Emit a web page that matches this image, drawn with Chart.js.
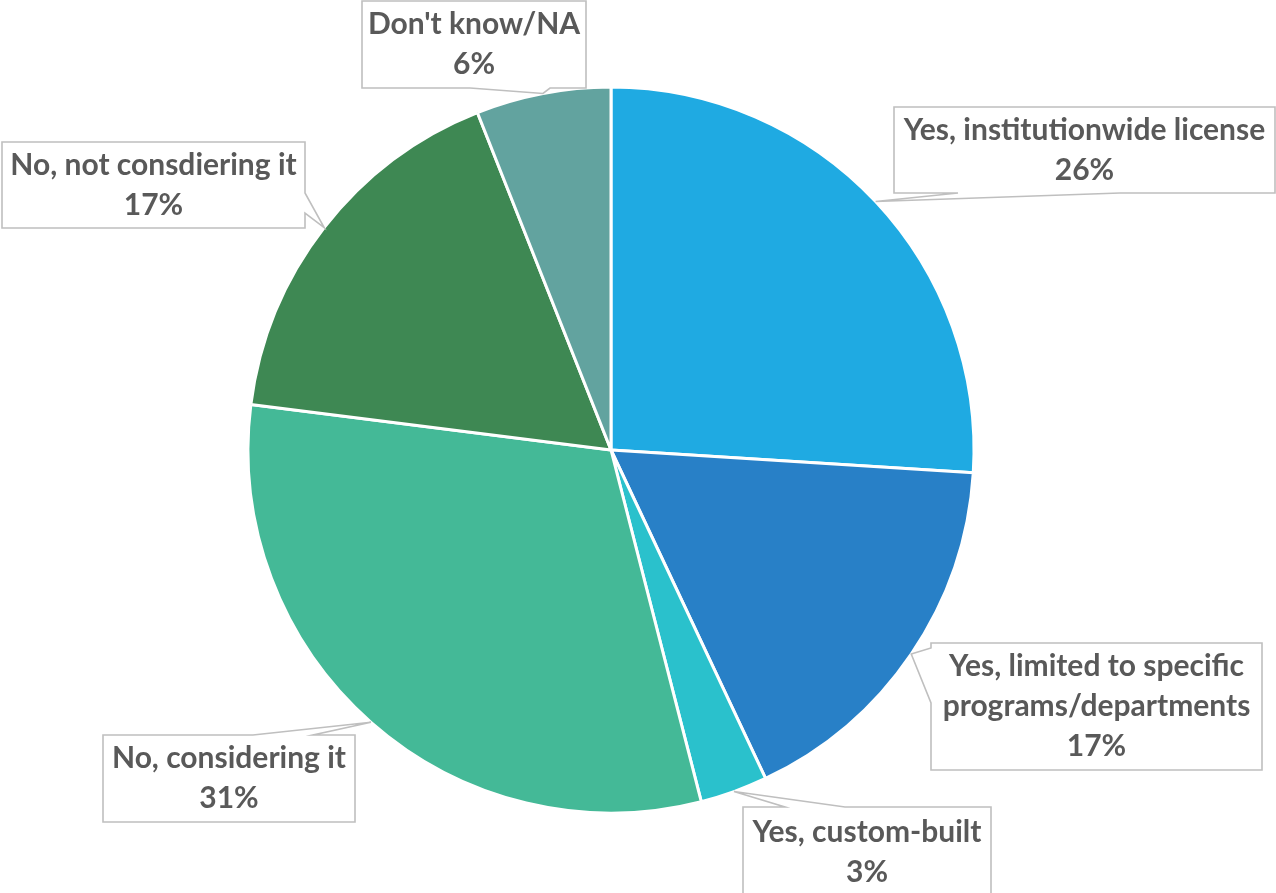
<!DOCTYPE html>
<html>
<head>
<meta charset="utf-8">
<script src="https://cdn.jsdelivr.net/npm/chart.js@4/dist/chart.umd.min.js"></script>
<style>
  html, body { margin: 0; padding: 0; background: #ffffff; }
  #wrap { width: 1276px; height: 893px; position: relative; }
</style>
</head>
<body>
<div id="wrap"><canvas id="pie"></canvas></div>
<script>
// Survey answers and their shares (percent)
const categories = [
  'Yes, institutionwide license',
  'Yes, limited to specific programs/departments',
  'Yes, custom-built',
  'No, considering it',
  'No, not consdiering it',
  "Don't know/NA"
];
const shares = [26, 17, 3, 31, 17, 6];

// Text shown in each callout (label lines; the value line is appended)
const calloutLines = [
  ['Yes, institutionwide license'],
  ['Yes, limited to specific', 'programs/departments'],
  ['Yes, custom-built'],
  ['No, considering it'],
  ['No, not consdiering it'],
  ["Don't know/NA"]
];

const sliceColors = ['#1FAAE2', '#2880C7', '#2AC1CC', '#44B997', '#3E8853', '#62A39F'];

// Callout boxes: rectangle plus the edge and span where the pointer leaves the box
const calloutBoxes = [
  { x: 894, y: 107, w: 381, h: 86,  side: 'bottom', a: 958, b: 1120 },
  { x: 931, y: 643, w: 331, h: 127, side: 'left',   a: 648, b: 703 },
  { x: 743, y: 807, w: 248, h: 100, side: 'top',    a: 785, b: 845 },
  { x: 103, y: 735, w: 252, h: 87,  side: 'top',    a: 253, b: 313 },
  { x: 2,   y: 142, w: 303, h: 86,  side: 'right',  a: 193, b: 213 },
  { x: 362, y: 1,   w: 224, h: 87,  side: 'bottom', a: 470, b: 550 }
];

const FONT = 'bold 30px Lato';
const LINE_H = 40;

const calloutPlugin = {
  id: 'callouts',
  afterDatasetsDraw(chart) {
    const ctx = chart.ctx;
    const meta = chart.getDatasetMeta(0);
    const total = shares.reduce((s, v) => s + v, 0);
    meta.data.forEach((arc, i) => {
      const p = arc.getProps(['x', 'y', 'startAngle', 'endAngle', 'outerRadius'], true);
      const mid = (p.startAngle + p.endAngle) / 2;
      const tx = p.x + Math.cos(mid) * p.outerRadius;
      const ty = p.y + Math.sin(mid) * p.outerRadius;
      const bx = calloutBoxes[i];
      const L = bx.x, T = bx.y, R = bx.x + bx.w, B = bx.y + bx.h;

      // box outline with the pointer wedge folded into one edge
      ctx.save();
      ctx.beginPath();
      ctx.moveTo(L, T);
      if (bx.side === 'top') { ctx.lineTo(bx.a, T); ctx.lineTo(tx, ty); ctx.lineTo(bx.b, T); }
      ctx.lineTo(R, T);
      if (bx.side === 'right') { ctx.lineTo(R, bx.a); ctx.lineTo(tx, ty); ctx.lineTo(R, bx.b); }
      ctx.lineTo(R, B);
      if (bx.side === 'bottom') { ctx.lineTo(bx.b, B); ctx.lineTo(tx, ty); ctx.lineTo(bx.a, B); }
      ctx.lineTo(L, B);
      if (bx.side === 'left') { ctx.lineTo(L, bx.b); ctx.lineTo(tx, ty); ctx.lineTo(L, bx.a); }
      ctx.closePath();
      ctx.fillStyle = '#ffffff';
      ctx.fill();
      ctx.lineWidth = 1.6;
      ctx.strokeStyle = '#BFBFBF';
      ctx.stroke();

      const lines = calloutLines[i].concat([Math.round(shares[i] / total * 100) + '%']);
      ctx.font = FONT;
      ctx.fillStyle = '#595959';
      ctx.textAlign = 'center';
      ctx.textBaseline = 'middle';
      const cx = (L + R) / 2;
      const cy = i === 2 ? T + 45 : (T + B) / 2;
      const y0 = cy - (lines.length - 1) * LINE_H / 2;
      lines.forEach((t, k) => ctx.fillText(t, cx, y0 + k * LINE_H));
      ctx.restore();
    });
  }
};

new Chart(document.getElementById('pie'), {
  type: 'pie',
  data: {
    labels: categories,
    datasets: [{
      data: shares,
      backgroundColor: sliceColors,
      borderColor: '#ffffff',
      borderWidth: 3
    }]
  },
  options: {
    responsive: true,
    maintainAspectRatio: false,
    animation: false,
    radius: 363,
    layout: { padding: { left: 0, right: 54, top: 7, bottom: 0 } },
    plugins: {
      legend: { display: false },
      tooltip: { enabled: false }
    }
  },
  plugins: [calloutPlugin]
});
</script>
</body>
</html>
